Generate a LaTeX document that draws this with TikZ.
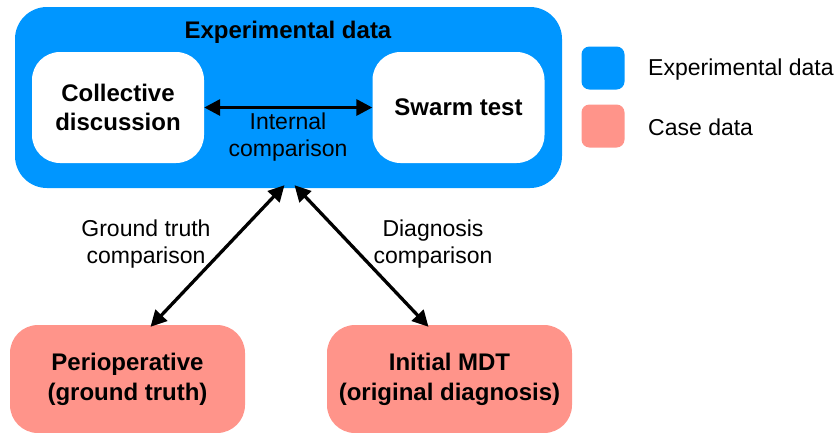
\documentclass[tikz,border=0pt]{standalone}
\usepackage{fontspec}
\setmainfont{Liberation Sans}
\usetikzlibrary{arrows.meta}
\definecolor{expblue}{RGB}{0,150,255}
\definecolor{casepink}{RGB}{255,148,138}
\tikzset{
  box/.style={rounded corners=28pt, align=center, font=\fontsize{24}{29.5}\selectfont\bfseries, inner sep=0pt},
  whitebox/.style={box, fill=white, minimum width=172pt, minimum height=111pt},
  casebox/.style={box, fill=casepink, minimum height=108pt, font=\fontsize{24}{30}\selectfont\bfseries},
  swatch/.style={rounded corners=8pt, minimum width=43pt, minimum height=43pt, inner sep=0pt},
  legendtext/.style={anchor=west, font=\fontsize{23}{27}\selectfont, inner sep=0pt},
  lbl/.style={align=center, font=\fontsize{23}{26.5}\selectfont, inner sep=0pt},
  biarrow/.style={line width=3.3pt, {Triangle[length=16pt,width=16pt]}-{Triangle[length=16pt,width=16pt]}},
}
\begin{document}
\begin{tikzpicture}[x=1pt,y=-1pt]
\useasboundingbox (0,0) rectangle (840,432);

% experimental data container
\node[box, fill=expblue, minimum width=547pt, minimum height=181pt, rounded corners=32pt] (exp) at (288.5,97.5) {};
\node[font=\fontsize{24}{28}\selectfont\bfseries, inner sep=0pt] (title) at (288,32) {Experimental data};
\node[whitebox] (cd) at (118,107.5) {Collective\\discussion};
\node[whitebox] (sw) at (458.5,107.5) {Swarm test};
\draw[biarrow] (cd.east) -- (sw.west);
\node[lbl] (internal) at (288,137) {Internal\\comparison};

% case data boxes
\node[casebox, minimum width=235pt] (peri) at (127.5,379) {Perioperative\\(ground truth)};
\node[casebox, minimum width=245pt] (mdt) at (449.5,379) {Initial MDT\\(original diagnosis)};

% comparison arrows
\draw[biarrow] ([xshift=-4pt,yshift=3pt]exp.south) -- ([xshift=23pt,yshift=-2pt]peri.north);
\draw[biarrow] ([xshift=6pt,yshift=3pt]exp.south) -- ([xshift=-21pt,yshift=-2pt]mdt.north);
\node[lbl] (gt) at (146,244) {Ground truth\\comparison};
\node[lbl] (dx) at (433,244) {Diagnosis\\comparison};

% legend
\node[swatch, fill=expblue] (lexp) at (603,68) {};
\node[legendtext] (lexpt) at (648,70) {Experimental data};
\node[swatch, fill=casepink] (lcase) at (603,126) {};
\node[legendtext] (lcaset) at (648,127) {Case data};
\end{tikzpicture}
\end{document}
